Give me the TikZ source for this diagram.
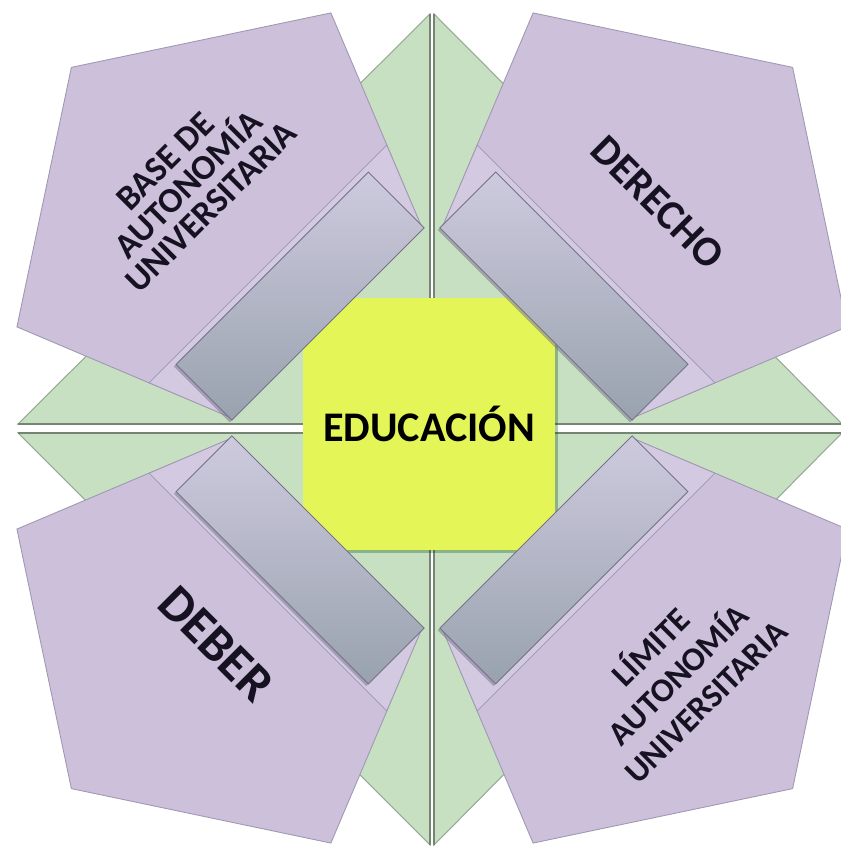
\documentclass[tikz,border=0pt]{standalone}
\usepackage{fontspec}
\setsansfont{Carlito}
\usetikzlibrary{shadows}

\definecolor{leafgreen}{RGB}{199,224,193}
\definecolor{leafedge}{RGB}{150,170,150}
\definecolor{axisgray}{RGB}{118,132,118}
\definecolor{petalfill}{RGB}{204,192,219}
\definecolor{flapfill}{RGB}{211,202,226}
\definecolor{petaledge}{RGB}{160,152,178}
\definecolor{bardark}{RGB}{152,162,174}
\definecolor{barlight}{RGB}{206,202,222}
\definecolor{baredge}{RGB}{118,114,138}
\definecolor{coreyellow}{RGB}{228,245,88}
\definecolor{inkdark}{RGB}{22,18,34}

\begin{document}
\begin{tikzpicture}[
    x=0.02cm, y=0.02cm,
    leaf/.style={fill=leafgreen, draw=leafedge, line width=0.6pt},
    axisline/.style={draw=axisgray, line width=1.6pt},
    petal/.style={fill=petalfill, draw=petaledge, line width=0.5pt},
    flap/.style={fill=flapfill, draw=petaledge, line width=0.4pt},
    bar/.style={draw=baredge, line width=0.5pt,
      top color=barlight, bottom color=bardark,
      drop shadow={shadow xshift=-1.2pt, shadow yshift=-1.2pt, opacity=.5, fill=baredge}},
    corebox/.style={fill=coreyellow,
      minimum size=5.04cm,
      inner sep=0pt,
      font=\sffamily\bfseries\fontsize{24}{28}\selectfont,
      drop shadow={shadow xshift=2pt, shadow yshift=-2pt, opacity=.3, fill=black!70!green}},
    petaltext/.style={text=inkdark, align=center, inner sep=0pt}
  ]
  \useasboundingbox (0,0) rectangle (841,848);

  % green background, four halves of a diamond
  \draw[leaf] (430,834) -- (18,424) -- (430,424) -- cycle;
  \draw[leaf] (434,834) -- (842,424) -- (434,424) -- cycle;
  \draw[leaf] (18,415) -- (430,415) -- (430,3) -- cycle;
  \draw[leaf] (434,415) -- (842,415) -- (434,3) -- cycle;
  \draw[axisline] (430,834) -- (430,424) -- (18,424);
  \draw[axisline] (434,834) -- (434,424) -- (842,424);
  \draw[axisline] (18,415) -- (430,415) -- (430,3);
  \draw[axisline] (842,415) -- (434,415) -- (434,3);

  \node[corebox] (edu) at (429,424) {EDUCACIÓN};

  \coordinate (O) at (432,420);

  % top left
  \begin{scope}[shift={(O)}, rotate=135]
    \draw[petal] (510,0) -- (365,222) -- (150,135) -- (150,-135) -- (365,-222) -- cycle;
    \draw[flap] (150,135) -- (232,168) -- (232,-168) -- (150,-135) -- cycle;
    \draw[bar] (147,-136) rectangle (226,136);
    \node[petaltext, rotate=45, font=\sffamily\bfseries\fontsize{20}{18.5}\selectfont] (base) at (345,0) {BASE DE\\AUTONOMÍA\\UNIVERSITARIA};
  \end{scope}

  % top right
  \begin{scope}[shift={(O)}, rotate=45]
    \draw[petal] (510,0) -- (365,222) -- (150,135) -- (150,-135) -- (365,-222) -- cycle;
    \draw[flap] (150,135) -- (232,168) -- (232,-168) -- (150,-135) -- cycle;
    \draw[bar] (147,-136) rectangle (226,136);
    \node[petaltext, rotate=-45, font=\sffamily\bfseries\fontsize{24}{28}\selectfont] (derecho) at (319,0) {DERECHO};
  \end{scope}

  % bottom left
  \begin{scope}[shift={(O)}, rotate=225]
    \draw[petal] (510,0) -- (365,222) -- (150,135) -- (150,-135) -- (365,-222) -- cycle;
    \draw[flap] (150,135) -- (232,168) -- (232,-168) -- (150,-135) -- cycle;
    \draw[bar] (147,-136) rectangle (226,136);
    \node[petaltext, rotate=-45, font=\sffamily\bfseries\fontsize{29}{33}\selectfont] (deber) at (305,0) {DEBER};
  \end{scope}

  % bottom right
  \begin{scope}[shift={(O)}, rotate=315]
    \draw[petal] (510,0) -- (365,222) -- (150,135) -- (150,-135) -- (365,-222) -- cycle;
    \draw[flap] (150,135) -- (232,168) -- (232,-168) -- (150,-135) -- cycle;
    \draw[bar] (147,-136) rectangle (226,136);
    \node[petaltext, rotate=45, font=\sffamily\bfseries\fontsize{19}{22}\selectfont] (limite) at (346,0) {LÍMITE\\AUTONOMÍA\\UNIVERSITARIA};
  \end{scope}
\end{tikzpicture}
\end{document}
